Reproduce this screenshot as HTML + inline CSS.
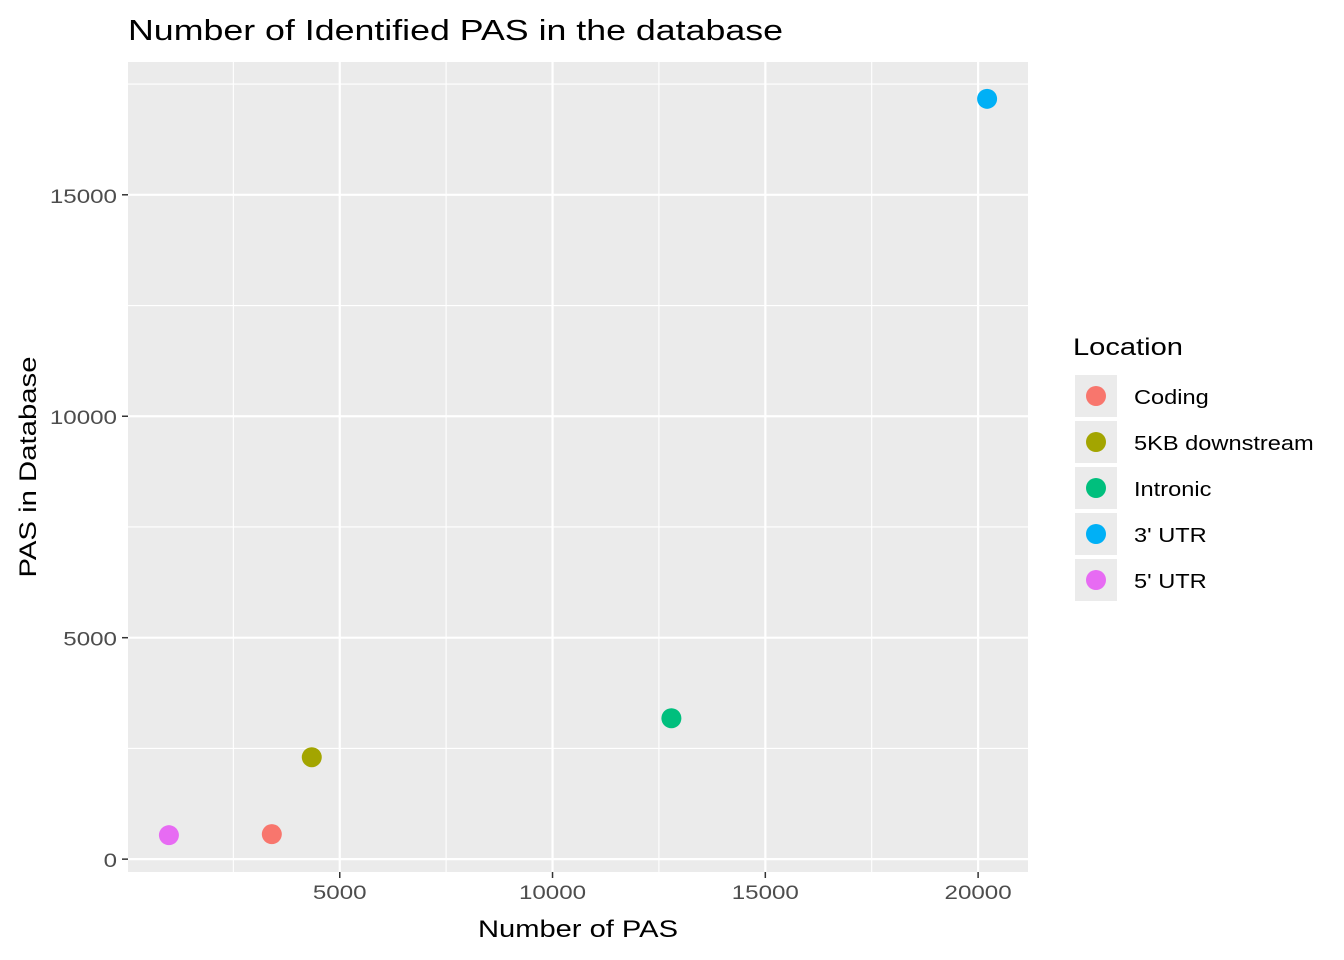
<!DOCTYPE html>
<html><head><meta charset="utf-8"><style>
body{margin:0;background:#fff;font-family:"Liberation Sans",Arial,sans-serif}
svg{display:block}
</style></head><body>
<svg id="chart" width="1344" height="960" xmlns="http://www.w3.org/2000/svg">
<text x="128" y="40" font-size="29" fill="#000" textLength="655" lengthAdjust="spacingAndGlyphs">Number of Identified PAS in the database</text>
<rect x="128" y="62" width="900" height="810" fill="#ebebeb"/>
<g id="grid"></g>
<g id="axes"></g>
<g id="points"></g>
<text x="578" y="937" font-size="24" text-anchor="middle" textLength="200" lengthAdjust="spacingAndGlyphs">Number of PAS</text>
<text transform="translate(36,467) rotate(-90)" font-size="24" text-anchor="middle" textLength="221" lengthAdjust="spacingAndGlyphs">PAS in Database</text>
<text x="1073" y="355" font-size="24" textLength="110" lengthAdjust="spacingAndGlyphs">Location</text>
<g id="legend"></g>
</svg>
<script>
const categories=["Coding","5KB downstream","Intronic","3' UTR","5' UTR"];
const colors=["#F8766D","#A3A500","#00BF7D","#00B0F6","#E76BF3"];
const xValues=[3404,4343,12793,20211,986];
const yValues=[564,2301,3181,17167,541];
const xTicks=[5000,10000,15000,20000];
const yTicks=[0,5000,10000,15000];
const xMinor=[2500,7500,12500,17500];
const yMinor=[2500,7500,12500,17500];
const NS="http://www.w3.org/2000/svg";
const L=128,R=1028,T=62,B=872;
const xmin=Math.min(...xValues),xmax=Math.max(...xValues),ymin=Math.min(...yValues),ymax=Math.max(...yValues);
const xpad=(xmax-xmin)*0.05,ypad=(ymax-ymin)*0.05;
const X=v=>L+(v-(xmin-xpad))/((xmax+xpad)-(xmin-xpad))*(R-L);
const Y=v=>B-(v-(ymin-ypad))/((ymax+ypad)-(ymin-ypad))*(B-T);
function mk(tag,attrs,parent){const e=document.createElementNS(NS,tag);for(const k in attrs)e.setAttribute(k,attrs[k]);document.getElementById(parent).appendChild(e);return e;}
function widen(t,f){const w=t.getComputedTextLength();t.setAttribute('textLength',(w*f).toFixed(1));t.setAttribute('lengthAdjust','spacingAndGlyphs');}
xMinor.forEach(v=>{const x=X(v);if(x<L||x>R)return;const e=mk('line',{x1:x,x2:x,y1:T,y2:B,stroke:'#fff','stroke-width':1.1},'grid');

});
yMinor.forEach(v=>{const y=Y(v);if(y<T||y>B)return;const e=mk('line',{x1:L,x2:R,y1:y,y2:y,stroke:'#fff','stroke-width':1.1},'grid');

});
xTicks.forEach(v=>{const x=X(v);const e=mk('line',{x1:x,x2:x,y1:T,y2:B,stroke:'#fff','stroke-width':2.2},'grid');


const t=mk('line',{x1:x,x2:x,y1:B,y2:B+6,stroke:'#333','stroke-width':1.5},'axes');


const l=mk('text',{x:x,y:B+27,'font-size':19,'text-anchor':'middle',fill:'#4d4d4d'},'axes');l.textContent=v;widen(l,1.27);

});
yTicks.forEach(v=>{const y=Y(v);const e=mk('line',{x1:L,x2:R,y1:y,y2:y,stroke:'#fff','stroke-width':2.2},'grid');


const t=mk('line',{x1:L-6,x2:L,y1:y,y2:y,stroke:'#333','stroke-width':1.5},'axes');


const l=mk('text',{x:L-11,y:y+8,'font-size':19,'text-anchor':'end',fill:'#4d4d4d'},'axes');l.textContent=v;widen(l,1.27);

});
categories.forEach((c,i)=>{const p=mk('circle',{cx:X(xValues[i]),cy:Y(yValues[i]),r:10,fill:colors[i]},'points');


const y0=375+i*46;
const k=mk('rect',{x:1075,y:y0,width:42,height:42,fill:'#ebebeb'},'legend');


const d=mk('circle',{cx:1096,cy:y0+21,r:10,fill:colors[i]},'legend');


const t=mk('text',{x:1134,y:y0+29,'font-size':20,fill:'#000'},'legend');t.textContent=c;widen(t,1.18);

});
</script>
</body></html>
